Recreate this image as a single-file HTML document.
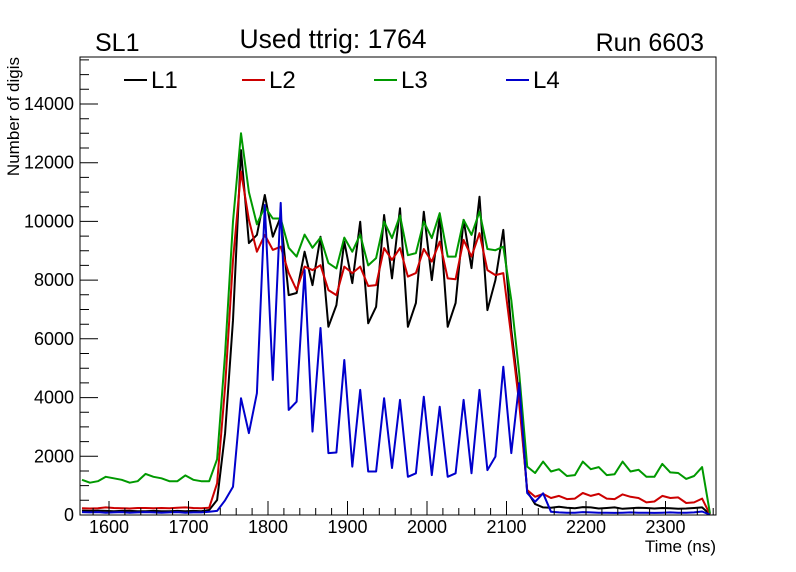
<!DOCTYPE html>
<html><head><meta charset="utf-8"><style>
html,body{margin:0;padding:0;background:#fff;}
svg{display:block;font-family:"Liberation Sans",Arial,sans-serif;}
</style></head><body>
<svg id="chart" width="796" height="572" viewBox="0 0 796 572" xmlns="http://www.w3.org/2000/svg">
<rect x="0" y="0" width="796" height="572" fill="#fff"/>
<text x="95" y="51" font-size="25">SL1</text>
<text x="333" y="48" font-size="26.5" text-anchor="middle">Used ttrig: 1764</text>
<text x="704" y="51" font-size="25" text-anchor="end">Run 6603</text>
<text transform="translate(19,57) rotate(-90)" font-size="17" text-anchor="end">Number of digis</text>
<text x="716" y="552" font-size="17" text-anchor="end">Time (ns)</text>
<g id="marks"></g>
<g id="axes"></g>
<g id="legend"></g>
</svg>
<script>
const times = [1566,1576,1586,1596,1606,1616,1626,1636,1646,1656,1666,1676,1686,1696,1706,1716,1726,1736,1746,1756,1766,1776,1786,1796,1806,1816,1826,1836,1846,1856,1866,1876,1886,1896,1906,1916,1926,1936,1946,1956,1966,1976,1986,1996,2006,2016,2026,2036,2046,2056,2066,2076,2086,2096,2106,2116,2126,2136,2146,2156,2166,2176,2186,2196,2206,2216,2226,2236,2246,2256,2266,2276,2286,2296,2306,2316,2326,2336,2346,2356];
const seriesNames = ["L1","L2","L3","L4"];
const seriesColors = ["#000000","#cc0000","#009900","#0000cc"];
const l1 = [150,140,150,140,130,140,140,130,130,140,130,130,140,130,140,130,170,510,2790,6640,12430,9260,9540,10900,9480,10160,7490,7560,8970,7830,9480,6410,7150,9310,7900,9990,6530,7090,10220,8060,10450,6410,7220,10330,8000,10160,6410,7220,10050,8410,10840,6980,8000,9710,6300,4030,800,370,260,250,280,250,230,270,260,220,240,260,210,230,250,240,220,240,230,210,220,240,260,20];
const l2 = [230,220,230,260,240,230,220,240,240,230,240,230,250,260,240,230,250,1080,4370,8680,11700,10050,8970,9540,9030,9140,8240,7660,8460,8340,8510,7660,7490,8460,8240,8460,7800,7830,9090,8690,9090,8120,8240,9060,8630,9310,8060,8030,9370,8800,9600,8340,8170,8240,6070,3800,850,620,720,580,650,540,560,750,650,720,560,540,700,620,580,430,460,650,580,600,410,430,560,20];
const l3 = [1200,1100,1150,1300,1250,1200,1100,1150,1400,1300,1250,1150,1150,1350,1200,1150,1150,1900,5500,10000,13000,11000,9900,10500,10100,10100,9100,8800,9550,9100,9450,8580,8400,9450,8970,9550,8500,8750,9990,9430,10200,8850,8920,9990,9430,10280,8800,8800,10050,9540,10330,9060,9020,9140,7320,4830,1650,1430,1820,1480,1560,1330,1360,1820,1560,1630,1360,1390,1820,1480,1540,1300,1300,1740,1450,1430,1230,1330,1630,50];
const l4 = [100,90,100,80,90,100,80,90,100,90,80,90,100,80,90,90,110,140,500,960,3980,2790,4150,10560,4600,10630,3580,3860,8340,2840,6370,2110,2130,5280,1650,4260,1480,1480,3980,1600,3920,1300,1420,4030,1360,3690,1300,1420,3920,1420,4260,1530,1990,5050,2110,4490,750,450,740,110,90,80,80,100,90,80,80,70,80,90,80,80,70,80,90,80,80,90,120,10];
const series = [l1,l2,l3,l4];
const xTicks = [1600,1700,1800,1900,2000,2100,2200,2300];
const yTicks = [0,2000,4000,6000,8000,10000,12000,14000];

const X0=80,X1=716,Y0=515,Y1=57;
const xMin=1563.5,xMax=2363.5,yMin=0,yMax=15600;
function xs(t){return X0+(t-xMin)/(xMax-xMin)*(X1-X0);}
function ys(v){return Y0-(v-yMin)/(yMax-yMin)*(Y0-Y1);}
const NS="http://www.w3.org/2000/svg";
function mk(tag,parent){const e=document.createElementNS(NS,tag);parent.appendChild(e);return e;}

const marks=document.getElementById('marks');
series.forEach((vals,si)=>{
  const p=mk('polyline',marks);
  
  
  p.setAttribute('points',vals.map((v,i)=>xs(times[i]).toFixed(1)+','+ys(v).toFixed(1)).join(' '));
  p.setAttribute('fill','none');p.setAttribute('stroke',seriesColors[si]);
  p.setAttribute('stroke-width','2');p.setAttribute('stroke-linejoin','round');
});

const axes=document.getElementById('axes');
const fr=mk('rect',axes);


fr.setAttribute('x',X0);fr.setAttribute('y',Y1);fr.setAttribute('width',X1-X0);fr.setAttribute('height',Y0-Y1);
fr.setAttribute('fill','none');fr.setAttribute('stroke','#000');fr.setAttribute('stroke-width','1');
let d='';
for(let t=1580;t<=2360;t+=20){const x=xs(t);if(x<X0||x>X1)continue;const len=(t%100===0)?14:7;d+='M'+x.toFixed(1)+' '+Y0+'V'+(Y0-len);}
for(let v=0;v<=15500;v+=500){const y=ys(v);if(y<Y1)continue;const len=(v%2000===0)?18:9;d+='M'+X0+' '+y.toFixed(1)+'H'+(X0+len);}
const tk=mk('path',axes);


tk.setAttribute('d',d);tk.setAttribute('stroke','#000');tk.setAttribute('stroke-width','1');
xTicks.forEach(t=>{const e=mk('text',axes);
  
  
  e.setAttribute('x',xs(t));e.setAttribute('y',533);e.setAttribute('font-size','18');e.setAttribute('text-anchor','middle');e.textContent=t;});
yTicks.forEach(v=>{const e=mk('text',axes);
  
  
  e.setAttribute('x',74);e.setAttribute('y',ys(v)+6);e.setAttribute('font-size','18');e.setAttribute('text-anchor','end');e.textContent=v;});

const legend=document.getElementById('legend');
const legX=[124,242,374,506];
seriesNames.forEach((n,i)=>{
  const g=mk('g',legend);
  
  
  const l=mk('line',g);l.setAttribute('x1',legX[i]);l.setAttribute('x2',legX[i]+23);l.setAttribute('y1',80);l.setAttribute('y2',80);
  l.setAttribute('stroke',seriesColors[i]);l.setAttribute('stroke-width','2');
  const t=mk('text',g);t.setAttribute('x',legX[i]+27);t.setAttribute('y',88);t.setAttribute('font-size','24');t.textContent=n;
});
</script>
</body></html>
